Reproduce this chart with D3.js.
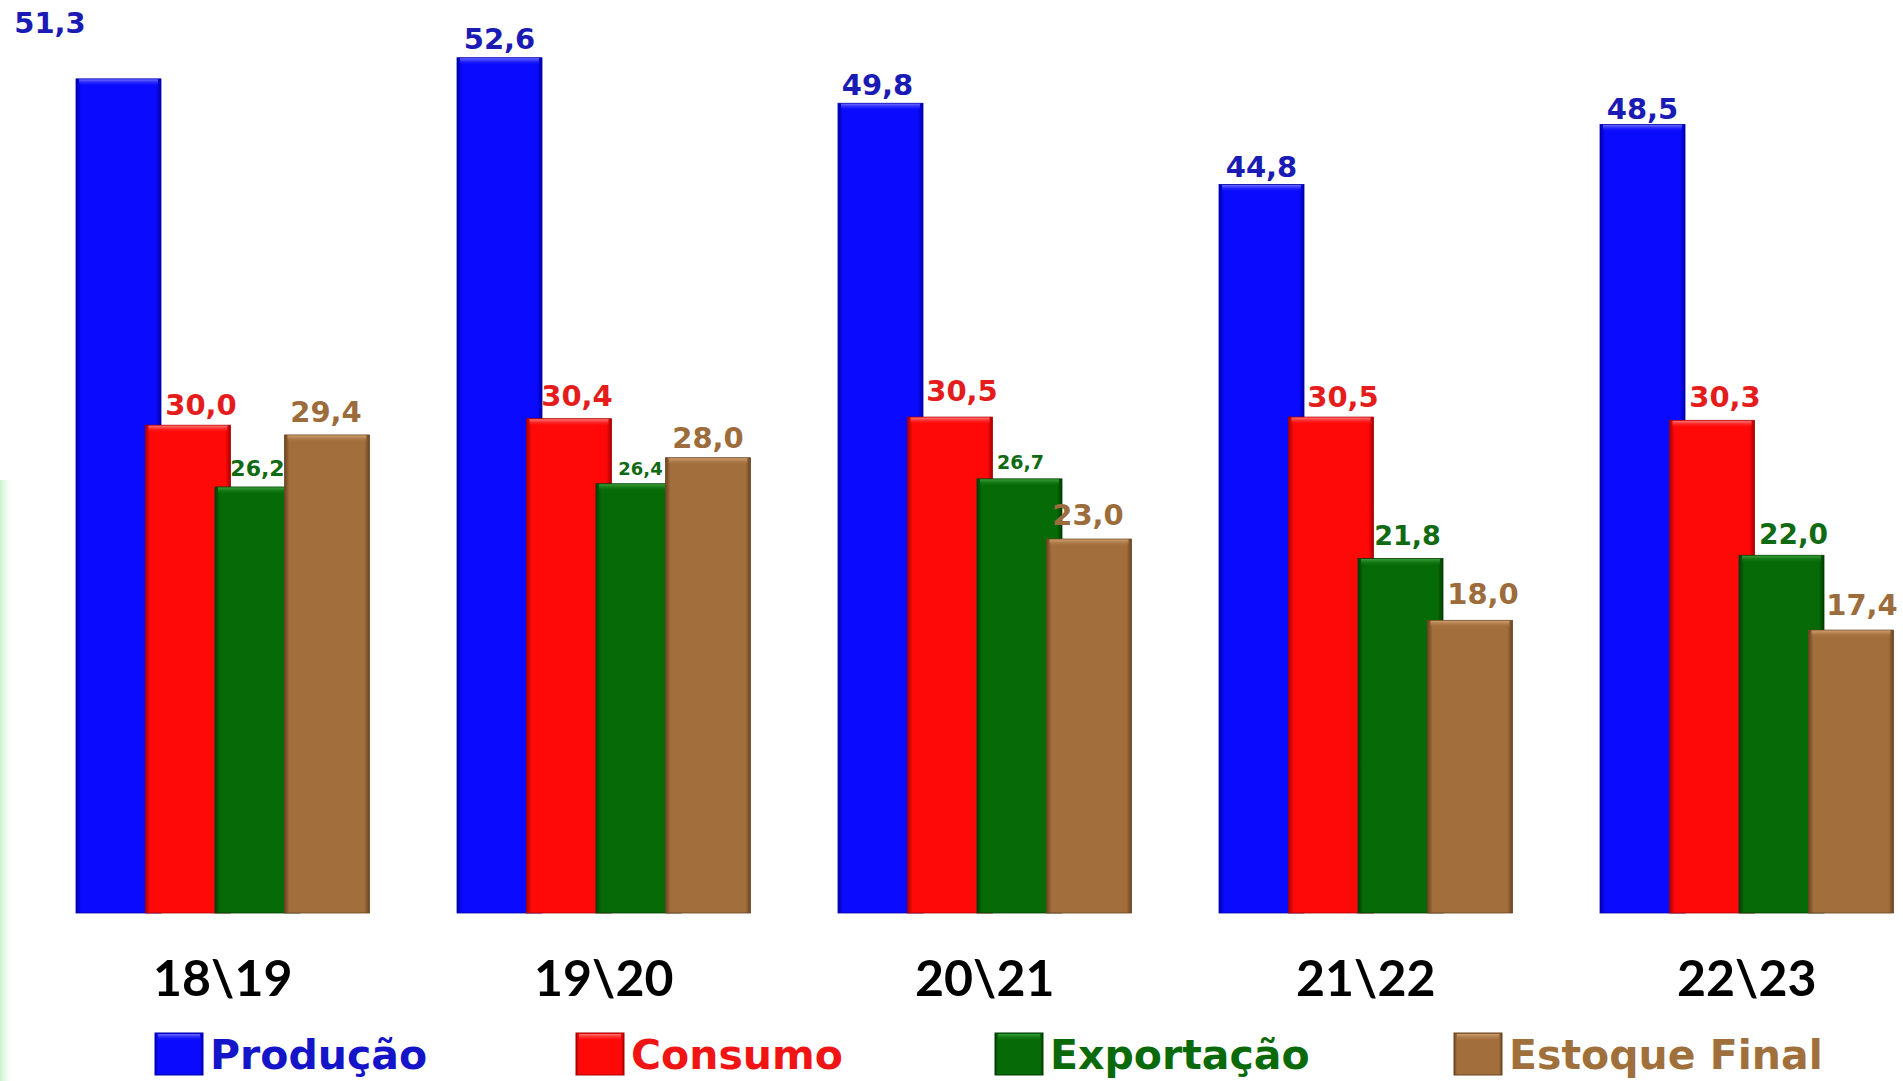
<!DOCTYPE html>
<html>
<head>
<meta charset="utf-8">
<script src="https://cdn.jsdelivr.net/npm/d3@7/dist/d3.min.js"></script>
<style>
  html, body { margin: 0; padding: 0; background: #ffffff; }
  svg { display: block; }
</style>
</head>
<body>
<svg id="chart" width="1903" height="1081"></svg>
<script>
// ---------------- DATA ----------------
const categories = ["18\\19", "19\\20", "20\\21", "21\\22", "22\\23"];
const seriesNames = ["Produção", "Consumo", "Exportação", "Estoque Final"];
const producao   = [51.3, 52.6, 49.8, 44.8, 48.5];
const consumo    = [30.0, 30.4, 30.5, 30.5, 30.3];
const exportacao = [26.2, 26.4, 26.7, 21.8, 22.0];
const estoque    = [29.4, 28.0, 23.0, 18.0, 17.4];
const seriesValues = [producao, consumo, exportacao, estoque];

// ---------------- STYLE / LAYOUT ----------------
const W = 1903, H = 1081;
const barColors   = ["#0a0aff", "#ff0808", "#066a06", "#a26e3c"];
const darkColors  = ["#0000a8", "#a80000", "#033c03", "#6a4420"];
const lightColors = ["#6e6eff", "#ff7a7a", "#3aa03a", "#d0a070"];
const labelColors = ["#1a1ab4", "#e41c1c", "#0f6a12", "#9c6c3c"];
const legendColors = ["#1414c8", "#f01414", "#0a6a0a", "#a0703c"];

// label nudges [category][series] : dx (px) and gap above bar top (px)
const labelDx  = [[0, 13, 0, -1], [0, 8, 2, 0], [-3, 12, 1, -1], [0, 12, 7, 13], [0, 13, 12, 11]];
const labelGap = [[0, 10, 11, 13], [9, 13, 9, 10], [8, 16, 10, 14], [8, 10, 14, 16], [5, 13, 11, 15]];
const labelSize = [[29, 29, 22, 29], [29, 29, 18, 29], [29, 29, 19, 29], [29, 29, 27, 29], [29, 29, 28, 29]];
const firstLabelPos = { x: 50, y: 33 }; // 51,3 label sits in the top-left corner

const svg = d3.select("#chart");
const defs = svg.append("defs");

// faint green strip at left edge
const lg = defs.append("linearGradient").attr("id", "leftStrip")
  .attr("x1", "0").attr("x2", "1").attr("y1", "0").attr("y2", "0");
lg.append("stop").attr("offset", "0%").attr("stop-color", "#c9f3c9");
lg.append("stop").attr("offset", "100%").attr("stop-color", "#ffffff").attr("stop-opacity", 0);
svg.append("rect").attr("x", 0).attr("y", 480).attr("width", 14).attr("height", 601)
  .attr("fill", "url(#leftStrip)");

barColors.forEach((c, i) => {
  const g = defs.append("linearGradient").attr("id", "barGrad" + i)
    .attr("x1", "0").attr("x2", "1").attr("y1", "0").attr("y2", "0");
  g.append("stop").attr("offset", "0%").attr("stop-color", darkColors[i]);
  g.append("stop").attr("offset", "6%").attr("stop-color", c);
  g.append("stop").attr("offset", "94%").attr("stop-color", c);
  g.append("stop").attr("offset", "100%").attr("stop-color", darkColors[i]);
  const t = defs.append("linearGradient").attr("id", "topGrad" + i)
    .attr("x1", "0").attr("x2", "0").attr("y1", "0").attr("y2", "1");
  t.append("stop").attr("offset", "0%").attr("stop-color", lightColors[i]);
  t.append("stop").attr("offset", "100%").attr("stop-color", c).attr("stop-opacity", 0);
});

// ---------------- SCALES ----------------
const x = d3.scaleBand().domain(categories).range([76, 1893.5]).paddingInner(0.2297).paddingOuter(0);
const barW = 85;
const xs = d3.scalePoint().domain(seriesNames).range([0, x.bandwidth() - barW]);
const y = d3.scaleLinear().domain([0, 56]).range([913, 913 - 56 * 16.26]);

const fmt = v => d3.format(".1f")(v).replace(".", ",");

// ---------------- BARS ----------------
const rows = [];
categories.forEach((cat, ci) => {
  seriesNames.forEach((s, si) => {
    rows.push({ cat, ci, s, si, v: seriesValues[si][ci] });
  });
});

const gBars = svg.append("g");
const barG = gBars.selectAll("g.bar").data(rows).join("g").attr("class", "bar");
barG.append("rect")
  .attr("x", d => x(d.cat) + xs(d.s))
  .attr("y", d => y(d.v))
  .attr("width", barW)
  .attr("height", d => y(0) - y(d.v))
  .attr("fill", d => `url(#barGrad${d.si})`)
  .attr("stroke", d => darkColors[d.si])
  .attr("stroke-width", 0.8);
barG.append("rect")
  .attr("x", d => x(d.cat) + xs(d.s) + 3)
  .attr("y", d => y(d.v) + 0.5)
  .attr("width", barW - 6)
  .attr("height", 7)
  .attr("fill", d => `url(#topGrad${d.si})`);

// ---------------- VALUE LABELS ----------------
svg.append("g").selectAll("text").data(rows).join("text")
  .attr("x", d => (d.ci === 0 && d.si === 0) ? firstLabelPos.x
      : x(d.cat) + xs(d.s) + barW / 2 + labelDx[d.ci][d.si])
  .attr("y", d => (d.ci === 0 && d.si === 0) ? firstLabelPos.y
      : y(d.v) - labelGap[d.ci][d.si])
  .attr("text-anchor", "middle")
  .attr("font-family", "'DejaVu Sans', Verdana, sans-serif")
  .attr("font-weight", "bold")
  .attr("font-size", d => labelSize[d.ci][d.si] + "px")
  .attr("fill", d => labelColors[d.si])
  .text(d => fmt(d.v));

// ---------------- CATEGORY AXIS ----------------
const xAxis = d3.axisBottom(x).tickSize(0).tickPadding(0);
const axG = svg.append("g").attr("transform", "translate(0, 958)").call(xAxis);
axG.select(".domain").remove();
axG.selectAll("text")
  .attr("font-family", "Lato, 'Open Sans', sans-serif")
  .attr("font-weight", "bold")
  .attr("font-size", "50px")
  .attr("fill", "#000")
  .attr("dy", "0.75em");

// ---------------- LEGEND ----------------
const legendX = [155, 576, 995, 1454];
const lgG = svg.append("g").selectAll("g").data(seriesNames).join("g")
  .attr("transform", (d, i) => `translate(${legendX[i]}, 1033)`);
lgG.append("rect").attr("width", 48).attr("height", 42)
  .attr("fill", (d, i) => `url(#barGrad${i})`)
  .attr("stroke", (d, i) => darkColors[i]).attr("stroke-width", 1);
lgG.append("rect").attr("x", 3).attr("y", 1).attr("width", 42).attr("height", 7)
  .attr("fill", (d, i) => `url(#topGrad${i})`);
lgG.append("text")
  .attr("x", 55).attr("y", 36)
  .attr("font-family", "'DejaVu Sans', Verdana, sans-serif")
  .attr("font-weight", "bold")
  .attr("font-size", "41px")
  .attr("fill", (d, i) => legendColors[i])
  .text(d => d);
</script>
</body>
</html>
